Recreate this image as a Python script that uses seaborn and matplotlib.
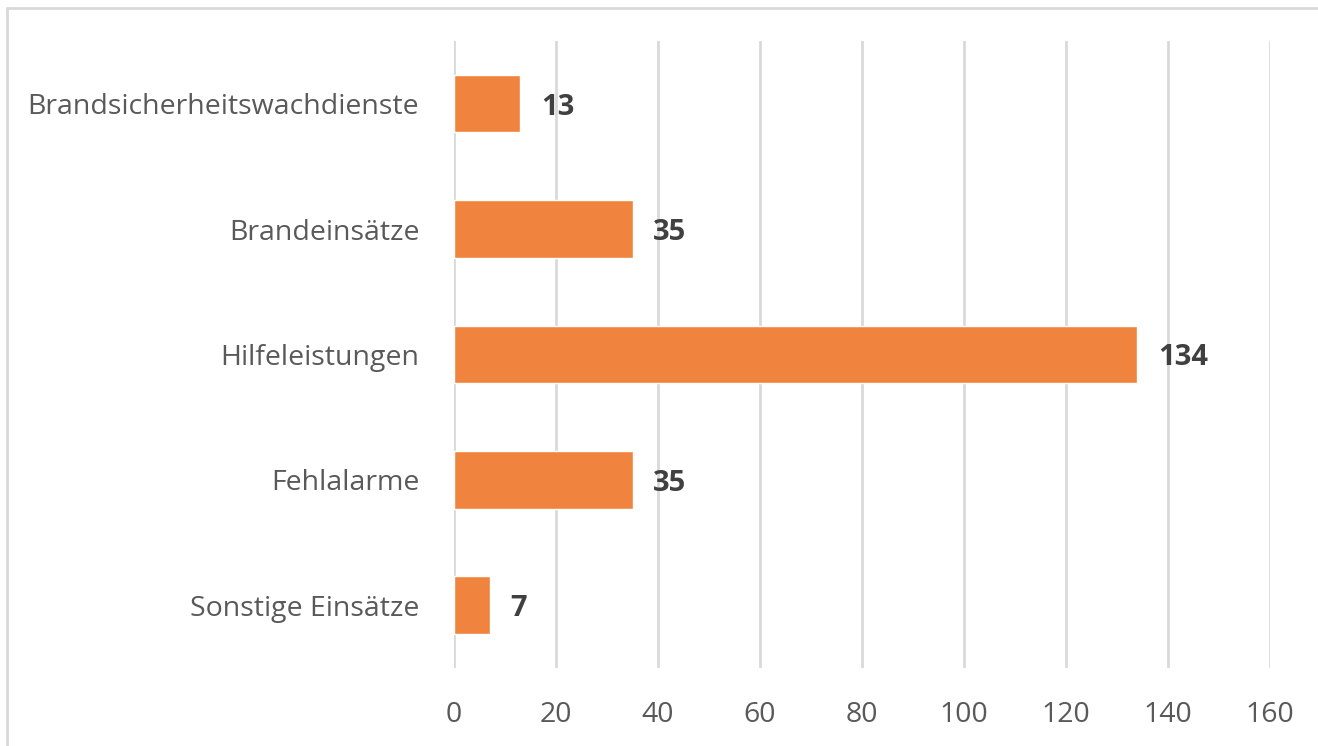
import matplotlib.pyplot as plt
import seaborn as sns
import pandas as pd
from matplotlib.lines import Line2D

categories = ['Brandsicherheitswachdienste', 'Brandeinsätze', 'Hilfeleistungen',
              'Fehlalarme', 'Sonstige Einsätze']
values = [13, 35, 134, 35, 7]
xticks = [0, 20, 40, 60, 80, 100, 120, 140, 160]

df = pd.DataFrame({'Kategorie': categories, 'Anzahl': values})

sns.set_style('white')
plt.rcParams['font.family'] = ['Open Sans', 'DejaVu Sans']

fig = plt.figure(figsize=(13.18, 7.46), dpi=100)
ax = fig.add_axes([0.3445, 0.1046, 0.6191, 0.8405])

sns.barplot(data=df, x='Anzahl', y='Kategorie', color='#F0843F', saturation=1,
            width=0.46, ax=ax, zorder=3)

ax.set_xlim(0, 160)
ax.set_ylim(4.5, -0.5)
ax.set_xticks(xticks)
ax.set_xticklabels([str(t) for t in xticks])
ax.grid(axis='x', color='#d9d9d9', linewidth=2, zorder=0)
ax.set_xlabel('')
ax.set_ylabel('')
for s in ax.spines.values():
    s.set_visible(False)
ax.tick_params(axis='both', length=0, labelsize=20.5, labelcolor='#595959')
ax.tick_params(axis='x', pad=24)
ax.tick_params(axis='y', pad=25)

for i, v in enumerate(values):
    ax.text(v + 4, i, str(v), va='center_baseline', ha='left', fontsize=21,
            fontweight='bold', color='#404040')

# light frame of the chart area
fig.add_artist(Line2D([7 / 1318, 1.0], [1 - 8 / 746, 1 - 8 / 746],
                      transform=fig.transFigure, color='#d9d9d9', linewidth=2))
fig.add_artist(Line2D([7 / 1318, 7 / 1318], [0, 1 - 8 / 746],
                      transform=fig.transFigure, color='#d9d9d9', linewidth=2))

fig.savefig('out.png', dpi=100)
plt.close(fig)
